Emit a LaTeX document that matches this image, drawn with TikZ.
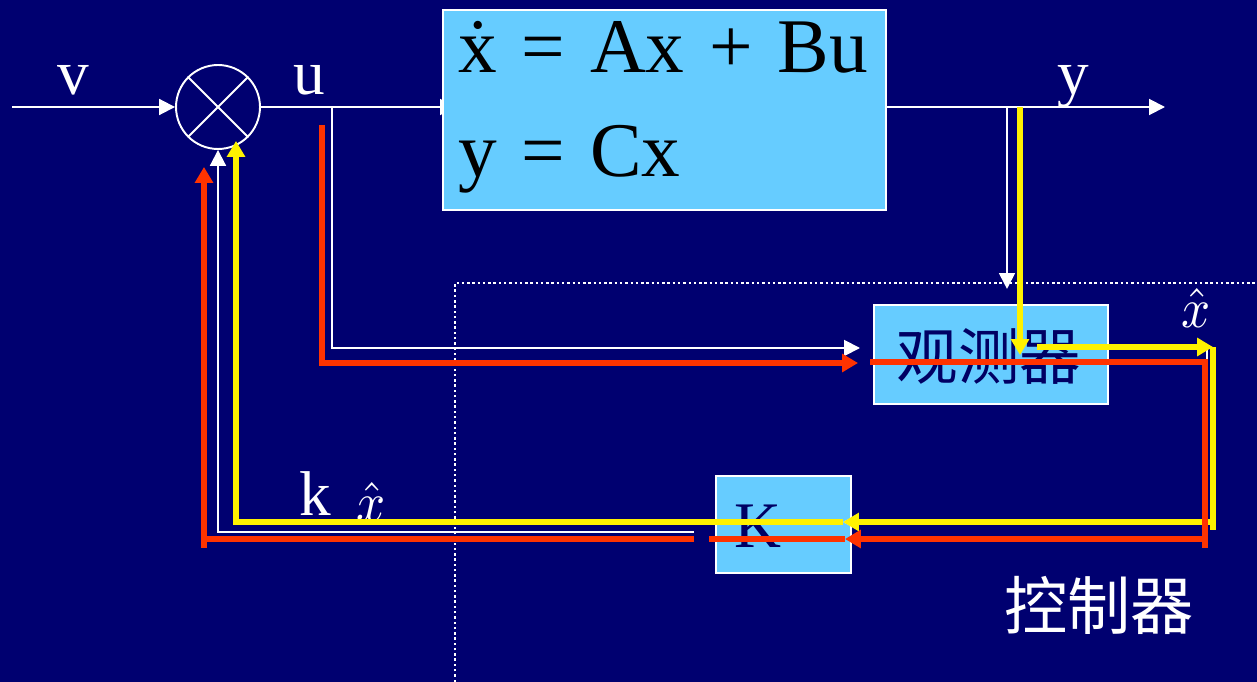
\documentclass[tikz,border=0pt]{standalone}
\usepackage{fontspec}
\setmainfont{Liberation Serif}
\newfontfamily\cjk{Noto Sans CJK SC}
\usetikzlibrary{positioning, calc, arrows.meta}

\definecolor{bgnavy}{RGB}{0,0,112}
\definecolor{boxblue}{RGB}{102,204,255}
\definecolor{textnavy}{RGB}{0,0,100}
\definecolor{pathred}{RGB}{255,51,0}

\newcommand{\eqgap}{\hspace{0.32em}}
\newcommand{\xhatlbl}{\scalebox{2.9}[3.2]{$\hat{x}$}}

\begin{document}
\begin{tikzpicture}[
  x=0.02cm, y=-0.02cm,
  block/.style={rectangle, draw=white, line width=1.2pt, fill=boxblue, inner sep=0pt},
  wire/.style={draw=white, line width=1.1pt},
  arrow/.style={wire, -{Triangle[length=9pt, width=9pt]}},
  yline/.style={draw=yellow, line width=3.3pt},
  yarrow/.style={yline, -{Triangle[length=9pt, width=10pt]}},
  rline/.style={draw=pathred, line width=3.3pt},
  rarrow/.style={rline, -{Triangle[length=9pt, width=10pt]}},
  lbl/.style={text=white, inner sep=0pt, font=\fontsize{36}{40}\selectfont},
  hatlbl/.style={text=white, inner sep=0pt},
  every node/.style={inner sep=0pt}
]

% background and frame
\fill[bgnavy] (0,0) rectangle (1257,682);
\useasboundingbox (0,0) rectangle (1257,682);

% controller region (dotted)
\draw[white, line width=1.3pt, dash pattern=on 1.4pt off 1.6pt] (455,682) -- (455,283) -- (1257,283);

%------------------------------------------------
% Summing junction
%------------------------------------------------
\node[circle, draw=white, line width=1.1pt, minimum size=1.68cm] (sum) at (218,107) {};
\draw[wire] (sum.north west) -- (sum.south east);
\draw[wire] (sum.north east) -- (sum.south west);

% u into the plant (tip hidden under the box)
\coordinate (plant_in) at (456,107);
\draw[arrow] (sum.east) -- (plant_in);

%------------------------------------------------
% Blocks
%------------------------------------------------
\node[block, minimum width=8.86cm, minimum height=4cm] (plant) at (664.5,110) {};
\node[anchor=base west, font=\fontsize{44}{48}\selectfont] (eq_state) at (458,73) {\.{x}\eqgap=\eqgap Ax\eqgap+\eqgap Bu};
\node[anchor=base west, font=\fontsize{44}{48}\selectfont] (eq_out) at (458,177) {y\eqgap=\eqgap Cx};

\node[block, minimum width=4.68cm, minimum height=1.98cm] (obs) at (991,354.5) {};
\node[text=textnavy, font=\cjk\fontsize{35}{38}\selectfont] (obs_txt) at (989,356) {观测器};

\node[block, minimum width=2.7cm, minimum height=1.94cm] (gain) at (783.5,524.5) {};
\node[anchor=base, text=textnavy, font=\fontsize{37}{40}\selectfont] (gain_txt) at (758,547) {K};

%------------------------------------------------
% Labels
%------------------------------------------------
\node[lbl, anchor=base] (lbl_v) at (73,95) {v};
\node[lbl, anchor=base] (lbl_u) at (309,95) {u};
\node[lbl, anchor=base] (lbl_y) at (1073,95) {y};
\node[lbl, anchor=base] (lbl_k) at (315,515) {k};
\node[hatlbl, anchor=base] (lbl_kxhat) at (371,521) {\xhatlbl};
\node[hatlbl, anchor=base] (lbl_xhat) at (1196,327) {\xhatlbl};
\node[text=white, font=\cjk\fontsize{36}{40}\selectfont] (lbl_ctrl) at (1099,605) {控制器};

%------------------------------------------------
% Signal wires (white)
%------------------------------------------------
\coordinate (v_in) at (12,107);
\coordinate (u_tap) at (332,107);
\coordinate (y_tap) at (1007,107);
\coordinate (y_end) at (1165,107);
\coordinate (u_obs) at (860,348);
\coordinate (xh_corner) at (1207,348);
\coordinate (xh_k) at (843,522);
\coordinate (kx_out) at (694,532);

\draw[arrow] (v_in) -- (sum.west);
\draw[arrow] (plant.east |- y_end) -- (y_end);
\draw[arrow, shorten >=0.3cm] (y_tap) -- (y_tap |- obs.north);
\draw[arrow] (u_tap) |- (u_obs);
\draw[arrow] (obs.east |- xh_corner) -- (xh_corner) |- (xh_k);
\draw[arrow] (kx_out) -| (sum.south);

%------------------------------------------------
% Yellow path
%------------------------------------------------
\coordinate (yy_top) at (1020,107);
\coordinate (yy_obs) at (1020,355);
\coordinate (yy_out) at (1037,347);
\coordinate (yy_right) at (1213,347);
\coordinate (yy_k) at (843,522);
\coordinate (yy_sum) at (236,141);

\draw[yarrow] (yy_top) -- (yy_obs);
\draw[yarrow] (yy_out) -- (yy_right);
\draw[yline] (yy_right) -- ++(0,183);
\draw[yline] (yy_k) -| (yy_sum |- 0,300);
\draw[yarrow] (yy_sum |- 0,300) -- (yy_sum);
\draw[yarrow] (yy_right) |- (yy_k);

%------------------------------------------------
% Red path
%------------------------------------------------
\coordinate (rr_top) at (322,125);
\coordinate (rr_obs) at (858,363);
\coordinate (rr_out) at (870,362);
\coordinate (rr_corner) at (1205,539);
\coordinate (rr_k) at (845,539);
\coordinate (rr_kend) at (709,539);
\coordinate (rr_left) at (694,539);
\coordinate (rr_sum) at (204,167);

\draw[rarrow] (rr_top) |- (rr_obs);
\draw[rline] (rr_out) -| ($(rr_corner)+(0,9)$);
\draw[rline] (rr_k) -- (rr_kend);
\draw[rarrow] (rr_corner) -- (rr_k);
\draw[rline] (rr_left) -| ($(rr_left -| rr_sum)+(0,9)$);
\draw[rarrow] (rr_left -| rr_sum) -- (rr_sum);

\end{tikzpicture}
\end{document}
